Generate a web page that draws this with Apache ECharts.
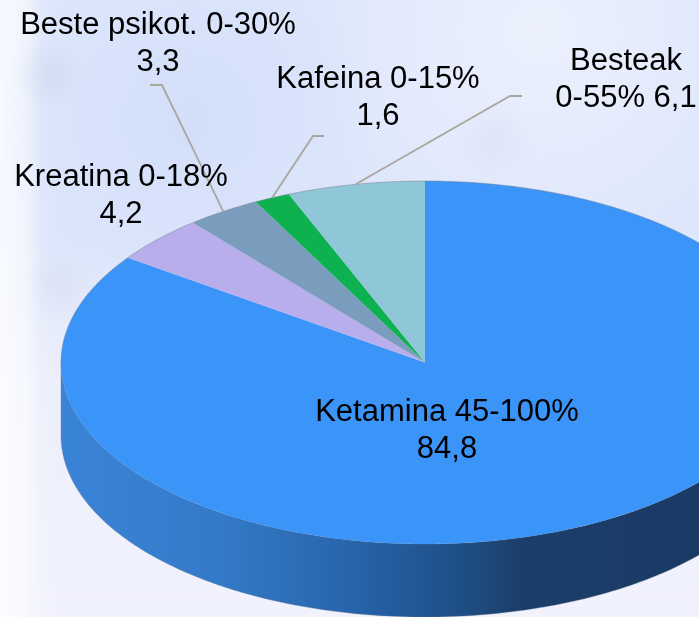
<!DOCTYPE html>
<html>
<head>
<meta charset="utf-8">
<title>Ketamina</title>
<script src="https://cdn.jsdelivr.net/npm/echarts@6/dist/echarts.min.js"></script>
<style>
  html, body { margin: 0; padding: 0; }
  #main { width: 699px; height: 617px; }
</style>
</head>
<body>
<div id="main"></div>
<script>
// clockwise from 12 o'clock
const names = ['Ketamina 45-100%', 'Kreatina 0-18%', 'Beste psikot. 0-30%', 'Kafeina 0-15%', 'Besteak']
const values = [84.8, 4.2, 3.3, 1.6, 6.1]
const valueLabels = ['84,8', '4,2', '3,3', '1,6', '0-55% 6,1']
const colors = ['#3b94f8', '#b8aeec', '#7b9dbd', '#0db14f', '#8fc6d8']

// tilted pie geometry
const cx = 425, cy = 362.5, rx = 364, ry = 181.5, depth = 73
// label block centre and leader elbow for each slice
const labelPos = [[447, 431], [121, 196], [158, 44], [378, 98], [626, 80]]
const leaders = [null, null, [[150, 85], [162, 85]], [[324, 136], [313, 136]], [[522, 96], [510, 96]]]
const total = values.reduce((a, b) => a + b, 0)

const rimPoint = (frac, dy = 0) => {
    const a = frac * Math.PI * 2
    return [cx + rx * Math.sin(a), cy - ry * Math.cos(a) + dy]
}

const arcPoints = (from, to, dy = 0) => {
    const pts = []
    const steps = Math.max(2, Math.ceil((to - from) * 360))
    for (let i = 0; i <= steps; i++) pts.push(rimPoint(from + (to - from) * i / steps, dy))
    return pts
}

const wallFill = {
    type: 'linear', x: 61, y: 0, x2: 699, y2: 0, global: true,
    colorStops: [
        { offset: 0, color: '#3a84d8' },
        { offset: 0.25, color: '#337ac8' },
        { offset: 0.47, color: '#2663a8' },
        { offset: 0.62, color: '#1f4f88' },
        { offset: 0.72, color: '#1b3f6b' },
        { offset: 1, color: '#1a3a64' }
    ]
}

const renderSlice = (params, api) => {
    const i = params.dataIndex
    const from = values.slice(0, i).reduce((a, b) => a + b, 0) / total
    const to = from + api.value(0) / total
    const children = []

    // side wall, only the front half of the rim shows
    const wallFrom = Math.max(from, 0.25), wallTo = Math.min(to, 0.75)
    if (wallTo > wallFrom) {
        children.push({
            type: 'polygon',
            shape: { points: arcPoints(wallFrom, wallTo).concat(arcPoints(wallFrom, wallTo, depth).reverse()) },
            style: { fill: wallFill, stroke: 'rgba(110,120,140,0.6)', lineWidth: 0.6 }
        })
    }

    children.push({
        type: 'polygon',
        shape: { points: [[cx, cy]].concat(arcPoints(from, to)) },
        style: { fill: colors[i] }
    })

    // thin grey edge along the back of the rim
    const backParts = [[from, Math.min(to, 0.25)], [Math.max(from, 0.75), to]]
    backParts.forEach(([a, b]) => {
        if (b > a) {
            children.push({
                type: 'polyline',
                shape: { points: arcPoints(a, b) },
                style: { fill: 'none', stroke: 'rgba(120,125,135,0.6)', lineWidth: 0.8 }
            })
        }
    })

    if (leaders[i]) {
        children.push({
            type: 'polyline',
            z2: 5,
            shape: { points: leaders[i].concat([rimPoint((from + to) / 2)]) },
            style: { fill: 'none', stroke: '#aaa79f', lineWidth: 1.8 }
        })
    }

    children.push({
        type: 'text',
        z2: 10,
        x: labelPos[i][0],
        y: labelPos[i][1],
        style: {
            text: names[i] + '\n' + valueLabels[i],
            font: '31px "Liberation Sans", Arial, sans-serif',
            lineHeight: 36.5,
            fill: '#000',
            align: 'center',
            verticalAlign: 'middle'
        }
    })
    return { type: 'group', children }
}

const soft = (x, y, r, color) => ({
    type: 'circle',
    silent: true,
    z: -5,
    shape: { cx: x, cy: y, r },
    style: {
        fill: {
            type: 'radial', x: 0.5, y: 0.5, r: 0.5,
            colorStops: [{ offset: 0, color }, { offset: 1, color: color.replace(/[\d.]+\)$/, '0)') }]
        }
    }
})

const backdrop = [
    {
        type: 'rect', silent: true, z: -10,
        shape: { x: 0, y: 0, width: 699, height: 617 },
        style: {
            fill: {
                type: 'linear', x: 0, y: 0, x2: 0, y2: 1,
                colorStops: [
                    { offset: 0, color: '#dde6fb' },
                    { offset: 0.4, color: '#dde6fb' },
                    { offset: 0.62, color: '#eceffc' },
                    { offset: 1, color: '#f1f2fd' }
                ]
            }
        }
    },
    {
        type: 'rect', silent: true, z: -6,
        shape: { x: 0, y: 0, width: 60, height: 617 },
        style: {
            fill: {
                type: 'linear', x: 0, y: 0, x2: 1, y2: 0,
                colorStops: [
                    { offset: 0, color: 'rgba(255,255,255,0.8)' },
                    { offset: 0.45, color: 'rgba(255,255,255,0.55)' },
                    { offset: 0.7, color: 'rgba(255,255,255,0.1)' },
                    { offset: 1, color: 'rgba(255,255,255,0)' }
                ]
            }
        }
    },
    soft(540, 30, 240, 'rgba(243,245,254,0.7)'),
    soft(190, 120, 190, 'rgba(204,217,249,0.6)'),
    soft(50, 75, 35, 'rgba(195,205,228,0.35)'),
    soft(60, 285, 35, 'rgba(210,218,234,0.4)'),
    soft(495, 140, 40, 'rgba(210,217,236,0.35)')
]

const myChart = echarts.init(document.getElementById('main'))
myChart.setOption({
    animation: false,
    graphic: backdrop,
    series: [
        {
            type: 'custom',
            coordinateSystem: 'none',
            silent: true,
            renderItem: renderSlice,
            data: values.map((v) => [v])
        }
    ]
})
</script>
</body>
</html>
